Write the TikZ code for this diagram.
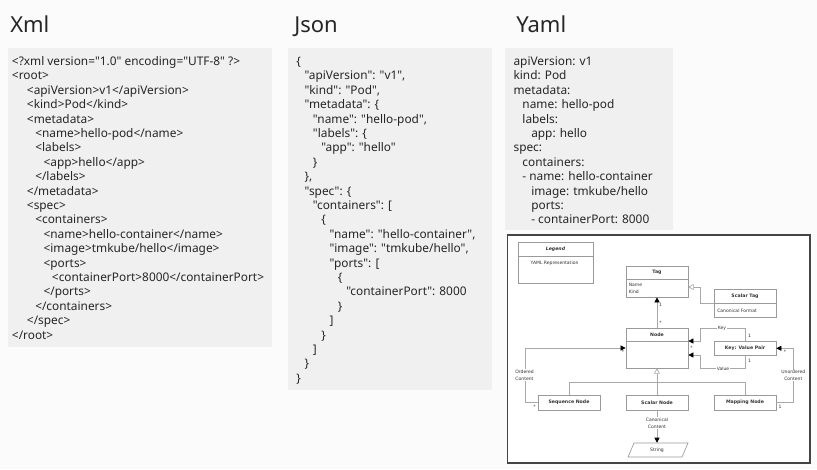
\documentclass[tikz,border=0pt]{standalone}
\usepackage{fontspec}
\setmainfont{Noto Sans}[Ligatures=TeXOff]
\newfontfamily\umlfont{DejaVu Sans}[Ligatures=TeXOff]
\usetikzlibrary{arrows.meta,calc}
\definecolor{bgc}{HTML}{FBFBFB}
\definecolor{panelc}{HTML}{F0F0F0}
\definecolor{txtc}{HTML}{262626}
\definecolor{boxc}{HTML}{9A9A9A}
\definecolor{linec}{HTML}{A8A8A8}
\definecolor{umltxt}{HTML}{333333}
\definecolor{framec}{HTML}{444444}
\newcommand\codeln[4]{\node[code] (#1) at (#2,{65.5+14.4*#3}) {#4};}
\begin{document}
\begin{tikzpicture}[x=0.75pt,y=-0.75pt,
  code/.style={anchor=base west, inner sep=0pt, text=txtc, font=\fontsize{8.9pt}{10.8pt}\selectfont},
  title/.style={anchor=base west, inner sep=0pt, text=txtc, font=\fontsize{16.5pt}{20pt}\selectfont},
  umlt/.style={inner sep=0pt, text=umltxt, font=\umlfont\fontsize{3.4pt}{5pt}\selectfont},
  umlb/.style={inner sep=0pt, text=umltxt, font=\umlfont\bfseries\fontsize{3.5pt}{5pt}\selectfont},
  umlbi/.style={inner sep=0pt, text=umltxt, font=\umlfont\bfseries\itshape\fontsize{3.5pt}{5pt}\selectfont},
  cls/.style={draw=boxc, fill=white, line width=0.5pt},
  sepline/.style={draw=boxc, line width=0.5pt},
  conn/.style={draw=linec, line width=0.5pt},
  fa/.style={-{Triangle[length=3.8pt,width=3.8pt,color=black]}},
  ga/.style={-{Triangle[length=4pt,width=4.5pt,fill=white]}},
  lbl/.style={umlt, fill=white, inner sep=0.6pt, align=center}]
\useasboundingbox (0,0) rectangle (817,469);
\fill[bgc] (0,0) rectangle (817,469);
% panels
\fill[panelc] (8.3,47.7) rectangle (271.7,346.7);
\fill[panelc] (288.3,47.7) rectangle (492.3,390);
\fill[panelc] (505,47.7) rectangle (673.3,230);
% titles
\node[title] (txml) at (10,32) {Xml};
\node[title] (tjson) at (294,32) {Json};
\node[title] (tyaml) at (516,32) {Yaml};
% XML
\codeln{x0}{11.7}{0}{<?xml version="1.0" encoding="UTF-8" ?>}
\codeln{x1}{11.7}{1}{<root>}
\codeln{x2}{26.7}{2}{<apiVersion>v1</apiVersion>}
\codeln{x3}{26.7}{3}{<kind>Pod</kind>}
\codeln{x4}{26.7}{4}{<metadata>}
\codeln{x5}{35}{5}{<name>hello-pod</name>}
\codeln{x6}{35}{6}{<labels>}
\codeln{x7}{43.3}{7}{<app>hello</app>}
\codeln{x8}{35}{8}{</labels>}
\codeln{x9}{26.7}{9}{</metadata>}
\codeln{x10}{26.7}{10}{<spec>}
\codeln{x11}{35}{11}{<containers>}
\codeln{x12}{43.3}{12}{<name>hello-container</name>}
\codeln{x13}{43.3}{13}{<image>tmkube/hello</image>}
\codeln{x14}{43.3}{14}{<ports>}
\codeln{x15}{51.7}{15}{<containerPort>8000</containerPort>}
\codeln{x16}{43.3}{16}{</ports>}
\codeln{x17}{35}{17}{</containers>}
\codeln{x18}{26.7}{18}{</spec>}
\codeln{x19}{11.7}{19}{</root>}
% JSON
\codeln{j0}{296}{0}{\{}
\codeln{j1}{304.3}{1}{"apiVersion": "v1",}
\codeln{j2}{304.3}{2}{"kind": "Pod",}
\codeln{j3}{304.3}{3}{"metadata": \{}
\codeln{j4}{312.7}{4}{"name": "hello-pod",}
\codeln{j5}{312.7}{5}{"labels": \{}
\codeln{j6}{321}{6}{"app": "hello"}
\codeln{j7}{312.7}{7}{\}}
\codeln{j8}{304.3}{8}{\},}
\codeln{j9}{304.3}{9}{"spec": \{}
\codeln{j10}{312.7}{10}{"containers": [}
\codeln{j11}{321}{11}{\{}
\codeln{j12}{329.3}{12}{"name": "hello-container",}
\codeln{j13}{329.3}{13}{"image": "tmkube/hello",}
\codeln{j14}{329.3}{14}{"ports": [}
\codeln{j15}{337.7}{15}{\{}
\codeln{j16}{346}{16}{"containerPort": 8000}
\codeln{j17}{337.7}{17}{\}}
\codeln{j18}{329.3}{18}{]}
\codeln{j19}{321}{19}{\}}
\codeln{j20}{312.7}{20}{]}
\codeln{j21}{304.3}{21}{\}}
\codeln{j22}{296}{22}{\}}
% YAML
\codeln{y0}{513.3}{0}{apiVersion: v1}
\codeln{y1}{513.3}{1}{kind: Pod}
\codeln{y2}{513.3}{2}{metadata:}
\codeln{y3}{522.2}{3}{name: hello-pod}
\codeln{y4}{522.2}{4}{labels:}
\codeln{y5}{531}{5}{app: hello}
\codeln{y6}{513.3}{6}{spec:}
\codeln{y7}{522.2}{7}{containers:}
\codeln{y8}{522.2}{8}{- name: hello-container}
\codeln{y9}{531}{9}{image: tmkube/hello}
\codeln{y10}{531}{10}{ports:}
\codeln{y11}{531}{11}{- containerPort: 8000}
% UML frame
\draw[draw=framec, line width=1.1pt, fill=white] (507.7,235) rectangle (810,463);
% Legend
\node[cls, minimum width=56.25pt, minimum height=30.75pt] (leg) at (555.5,262.5) {};
\draw[sepline] (leg.west |- 0,256) -- (leg.east |- 0,256);
\node[umlbi] (legT) at (555.5,249.3) {Legend};
\node[umlt] (legA) at (554.5,263.3) {YAML Representation};
% Tag
\node[cls, minimum width=46.5pt, minimum height=23.25pt] (tag) at (657,281.5) {};
\draw[sepline] (tag.west |- 0,279) -- (tag.east |- 0,279);
\node[umlb] (tagT) at (657,272.5) {Tag};
\node[umlt, anchor=west] (tagA1) at (628.5,285.3) {Name};
\node[umlt, anchor=west] (tagA2) at (628.5,292) {Kind};
% Scalar Tag
\node[cls, minimum width=46.5pt, minimum height=21pt] (stag) at (745,303) {};
\draw[sepline] (stag.west |- 0,303.5) -- (stag.east |- 0,303.5);
\node[umlb] (stagT) at (745,296.5) {Scalar Tag};
\node[umlt, anchor=west] (stagA) at (717,310.7) {Canonical Format};
% Node
\node[cls, minimum width=46.5pt, minimum height=30pt] (node) at (657,348) {};
\draw[sepline] (node.west |- 0,341) -- (node.east |- 0,341);
\node[umlb] (nodeT) at (657,334.5) {Node};
% Key: Value Pair
\node[cls, umlb, minimum width=46.5pt, minimum height=10pt] (kvp) at (745,348.3) {Key: Value Pair};
% bottom row
\node[cls, umlb, minimum width=46.5pt, minimum height=11.25pt] (seq) at (569,402.5) {Sequence Node};
\node[cls, umlb, minimum width=46.5pt, minimum height=11.25pt] (sn) at (657,402.5) {Scalar Node};
\node[cls, umlb, minimum width=46.5pt, minimum height=11.25pt] (map) at (745,402.5) {Mapping Node};
% String
\node[umlt, minimum width=41pt, minimum height=10.5pt] (str) at (657,450) {String};
\draw[sepline] ($(str)+(-29,7)$) -- ($(str)+(-23,-7)$) -- ($(str)+(31,-7)$) -- ($(str)+(25,7)$) -- cycle;
% connectors
\draw[conn, fa] (node.north) -- (tag.south);
\node[umlt] (m1) at (660.5,304.5) {1};
\node[umlt] (m2) at (660.5,323) {*};
\draw[conn, ga] (stag.west) -- ++(-13,0) |- ($(tag.east)+(0,5.5)$);
\draw[conn, fa] (kvp.north) |- (700,328) |- ($(node.east)+(0,-7)$);
\draw[conn, fa] (kvp.south) |- (700,368.3) |- ($(node.east)+(0,7)$);
\node[lbl] (lk) at (722,328) {Key};
\node[lbl] (lv) at (723,368.3) {Value};
\node[umlt] (m3) at (749.5,335.5) {1};
\node[umlt] (m4) at (749.5,361) {1};
\node[umlt] (m5) at (691.5,348) {*};
\draw[conn, fa] (seq.west) -| (525,348) -- (node.west);
\node[lbl] (lo) at (524.5,375) {Ordered\\Content};
\node[umlt] (m6) at (534.5,406.5) {*};
\node[umlt] (m7) at (623,352) {*};
\draw[conn, fa] (map.east) -| (793.3,348.3) -- (kvp.east);
\node[lbl] (lu) at (793.3,375.5) {Unordered\\Content};
\node[umlt] (m8) at (785,352) {*};
\node[umlt] (m9) at (780,407) {1};
\draw[conn] (seq.north) |- (745,382) -- (map.north);
\draw[conn, ga] (sn.north) -- (node.south);
\draw[conn, fa] (sn.south) -- (str.north);
\node[lbl] (lc) at (657,423) {Canonical\\Content};
\end{tikzpicture}
\end{document}
